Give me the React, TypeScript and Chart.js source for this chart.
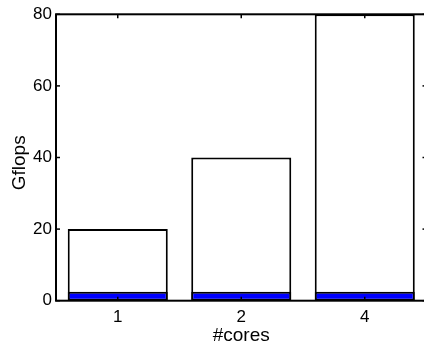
import React, { useEffect, useRef } from "react";
import { Chart, registerables } from "chart.js";

Chart.register(...registerables);

const categories = ["1", "2", "4"];
const peakGflops = [20, 40, 80];
const achievedGflops = [2.5, 2.5, 2.5];
const yTickValues = [0, 20, 40, 60, 80];

const FONT = "'Liberation Sans', Arial, Helvetica, sans-serif";

const boxAndTicks = {
  id: "boxAndTicks",
  afterDatasetsDraw(chart: any) {
    const { ctx, chartArea: a, scales } = chart;
    const xs = scales.x;
    const ys = scales.y;
    const L = 4;
    ctx.save();
    ctx.strokeStyle = "#000";
    ctx.lineWidth = 1.5;
    const seg = (x1: number, y1: number, x2: number, y2: number) => {
      ctx.beginPath();
      ctx.moveTo(x1, y1);
      ctx.lineTo(x2, y2);
      ctx.stroke();
    };
    yTickValues.forEach((v) => {
      const py = ys.getPixelForValue(v);
      seg(a.left, py, a.left + L, py);
      seg(a.right, py, a.right - L, py);
    });
    categories.forEach((_c, i) => {
      const px = xs.getPixelForValue(i);
      seg(px, a.top, px, a.top + L);
      seg(px, a.bottom, px, a.bottom - L);
    });
    ctx.lineWidth = 2;
    ctx.strokeRect(a.left, a.top, a.right - a.left, a.bottom - a.top);
    ctx.restore();
  },
};

export default function App() {
  const ref = useRef<HTMLCanvasElement | null>(null);

  useEffect(() => {
    const canvas = ref.current;
    if (!canvas) return;
    const chart = new Chart(canvas, {
      type: "bar",
      data: {
        labels: categories,
        datasets: [
          {
            label: "achieved",
            data: achievedGflops,
            backgroundColor: "#0000ff",
            borderColor: "#000",
            borderWidth: 2,
            borderSkipped: false,
            grouped: false,
            order: 0,
            barPercentage: 0.81,
            categoryPercentage: 1,
          } as any,
          {
            label: "peak",
            data: peakGflops,
            backgroundColor: "#ffffff",
            borderColor: "#000",
            borderWidth: 2,
            borderSkipped: false,
            grouped: false,
            order: 1,
            barPercentage: 0.81,
            categoryPercentage: 1,
          } as any,
        ],
      },
      options: {
        responsive: false,
        animation: false,
        devicePixelRatio: 1,
        layout: { padding: { left: 0, right: 13.5, top: 14.3, bottom: 0 } },
        plugins: {
          legend: { display: false },
          tooltip: { enabled: false },
        },
        scales: {
          x: {
            offset: true,
            grid: { display: false, drawTicks: false },
            border: { display: false },
            ticks: {
              color: "#000",
              padding: 6,
              font: { family: FONT, size: 17 },
            },
            title: {
              display: true,
              text: "#cores",
              color: "#000",
              padding: { top: 0, bottom: -5 },
              font: { family: FONT, size: 19 },
            },
            afterFit: (s: any) => {
              s.height = 41.3;
            },
          },
          y: {
            min: 0,
            max: 80,
            grid: { display: false, drawTicks: false },
            border: { display: false },
            ticks: {
              stepSize: 20,
              color: "#000",
              padding: 4,
              font: { family: FONT, size: 17 },
            },
            title: {
              display: true,
              text: "Gflops  ",
              color: "#000",
              padding: { top: 8.5, bottom: 0 },
              font: { family: FONT, size: 19 },
            },
            afterFit: (s: any) => {
              s.width = 56;
            },
          },
        },
      },
      plugins: [boxAndTicks],
    });
    return () => chart.destroy();
  }, []);

  return (
    <div
      style={{
        position: "fixed",
        left: 0,
        top: 0,
        width: 424,
        height: 342,
        overflow: "hidden",
        background: "#fff",
      }}
    >
      <canvas ref={ref} width={440} height={342} style={{ display: "block" }} />
    </div>
  );
}
